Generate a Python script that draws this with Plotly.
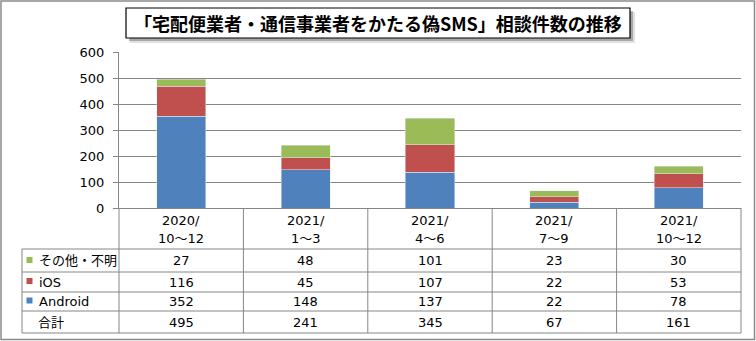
import plotly.graph_objects as go

categories = ["2020/<br>10～12", "2021/<br>1～3", "2021/<br>4～6", "2021/<br>7～9", "2021/<br>10～12"]
header_top = ["2020/", "2021/", "2021/", "2021/", "2021/"]
header_bot = ["10～12", "1～3", "4～6", "7～9", "10～12"]
other = [27, 48, 101, 23, 30]
ios = [116, 45, 107, 22, 53]
android = [352, 148, 137, 22, 78]
total = [495, 241, 345, 67, 161]
series_names = ["その他・不明", "iOS", "Android"]
title = "「宅配便業者・通信事業者をかたる偽SMS」相談件数の推移"

C_BLUE = "#4F81BD"
C_RED = "#C0504D"
C_GREEN = "#9BBB59"
GRID = "#868686"
FONT = "DejaVu Sans, Noto Sans CJK JP, sans-serif"

W, H = 756, 341
L, R, T, B = 119, 741, 52, 208


def px(x):
    return (x - L) / (R - L)


def py(y):
    return (B - y) / (B - T)


xs = list(range(len(categories)))
fig = go.Figure()
fig.add_bar(x=xs, y=android, marker_color=C_BLUE, name="Android")
fig.add_bar(x=xs, y=ios, marker_color=C_RED, name="iOS")
fig.add_bar(x=xs, y=other, marker_color=C_GREEN, name="その他・不明")

shapes = []
line = dict(color=GRID, width=1)
# outer border
shapes.append(dict(type="rect", xref="paper", yref="paper", x0=px(1), x1=px(754.5), y0=py(1), y1=py(339.5),
                   line=dict(color="#8a8a8a", width=1.5), fillcolor="rgba(0,0,0,0)", layer="below"))
# title box with shadow
shapes.append(dict(type="rect", xref="paper", yref="paper", x0=px(130), x1=px(635), y0=py(12), y1=py(43),
                   line=dict(width=0), fillcolor="rgba(0,0,0,0.12)"))
shapes.append(dict(type="rect", xref="paper", yref="paper", x0=px(129), x1=px(633), y0=py(11), y1=py(41),
                   line=dict(width=0), fillcolor="rgba(0,0,0,0.25)"))
shapes.append(dict(type="rect", xref="paper", yref="paper", x0=px(126), x1=px(630), y0=py(8), y1=py(38),
                   line=dict(color="black", width=1.2), fillcolor="white"))

# table lines
row_lines = [249, 272, 292, 311, 333]
for yy in row_lines:
    shapes.append(dict(type="line", xref="paper", yref="paper", x0=px(22), x1=1, y0=py(yy), y1=py(yy), line=line))
shapes.append(dict(type="line", xref="paper", yref="paper", x0=px(22), x1=px(22), y0=py(249), y1=py(333), line=line))
for k in range(len(categories) + 1):
    shapes.append(dict(type="line", xref="paper", yref="paper", x0=k / len(categories), x1=k / len(categories),
                       y0=0, y1=py(333), line=line))

# legend keys in table
key_rows = [(C_GREEN, 260), (C_RED, 281), (C_BLUE, 300.5)]
for col, cy in key_rows:
    shapes.append(dict(type="rect", xref="paper", yref="paper", x0=px(26.5), x1=px(32.5), y0=py(cy - 3), y1=py(cy + 3),
                       line=dict(width=0), fillcolor=col))

ann = []
tf = dict(family=FONT, size=13, color="black")
ann.append(dict(text="<b>" + title + "</b>", xref="paper", yref="paper", x=px(378), y=py(23.5), showarrow=False,
                xanchor="center", yanchor="middle", font=dict(family="Noto Sans CJK JP", size=18, color="black")))
row_centers = [260.5, 282, 301.5, 322]
row_labels = ["その他・不明", "iOS", "Android", "合計"]
row_x = [37, 37, 37, 36]
row_vals = [other, ios, android, total]
for lab, cy, lx in zip(row_labels, row_centers, row_x):
    ann.append(dict(text=lab, xref="paper", yref="paper", x=px(lx), y=py(cy), showarrow=False,
                    xanchor="left", yanchor="middle", font=tf))
for i in xs:
    ann.append(dict(text=header_top[i], xref="x", yref="paper", x=i, y=py(220), showarrow=False,
                    xanchor="center", yanchor="middle", font=tf))
    ann.append(dict(text=header_bot[i], xref="x", yref="paper", x=i, y=py(238), showarrow=False,
                    xanchor="center", yanchor="middle", font=tf))
    for vals, cy in zip(row_vals, row_centers):
        ann.append(dict(text=str(vals[i]), xref="x", yref="paper", x=i, y=py(cy), showarrow=False,
                        xanchor="center", yanchor="middle", font=tf))

fig.update_layout(
    width=W, height=H, autosize=False,
    margin=dict(l=L, r=W - R, t=T, b=H - B, pad=0),
    paper_bgcolor="white", plot_bgcolor="white",
    barmode="stack", bargap=0.605, showlegend=False,
    shapes=shapes, annotations=ann,
    font=tf,
)
fig.update_xaxes(range=[-0.5, len(categories) - 0.5], showticklabels=False, ticks="", showgrid=False,
                 showline=True, linecolor=GRID, linewidth=1, zeroline=False, fixedrange=True)
fig.update_yaxes(range=[0, 600], dtick=100, ticks="outside", ticklen=5, tickcolor=GRID, tickwidth=1,
                 showline=True, linecolor=GRID, linewidth=1, showgrid=True, gridcolor=GRID, gridwidth=1,
                 zeroline=False, tickfont=dict(family=FONT, size=13, color="black"), ticklabelstandoff=6,
                 fixedrange=True)

fig.write_html("out.html")
